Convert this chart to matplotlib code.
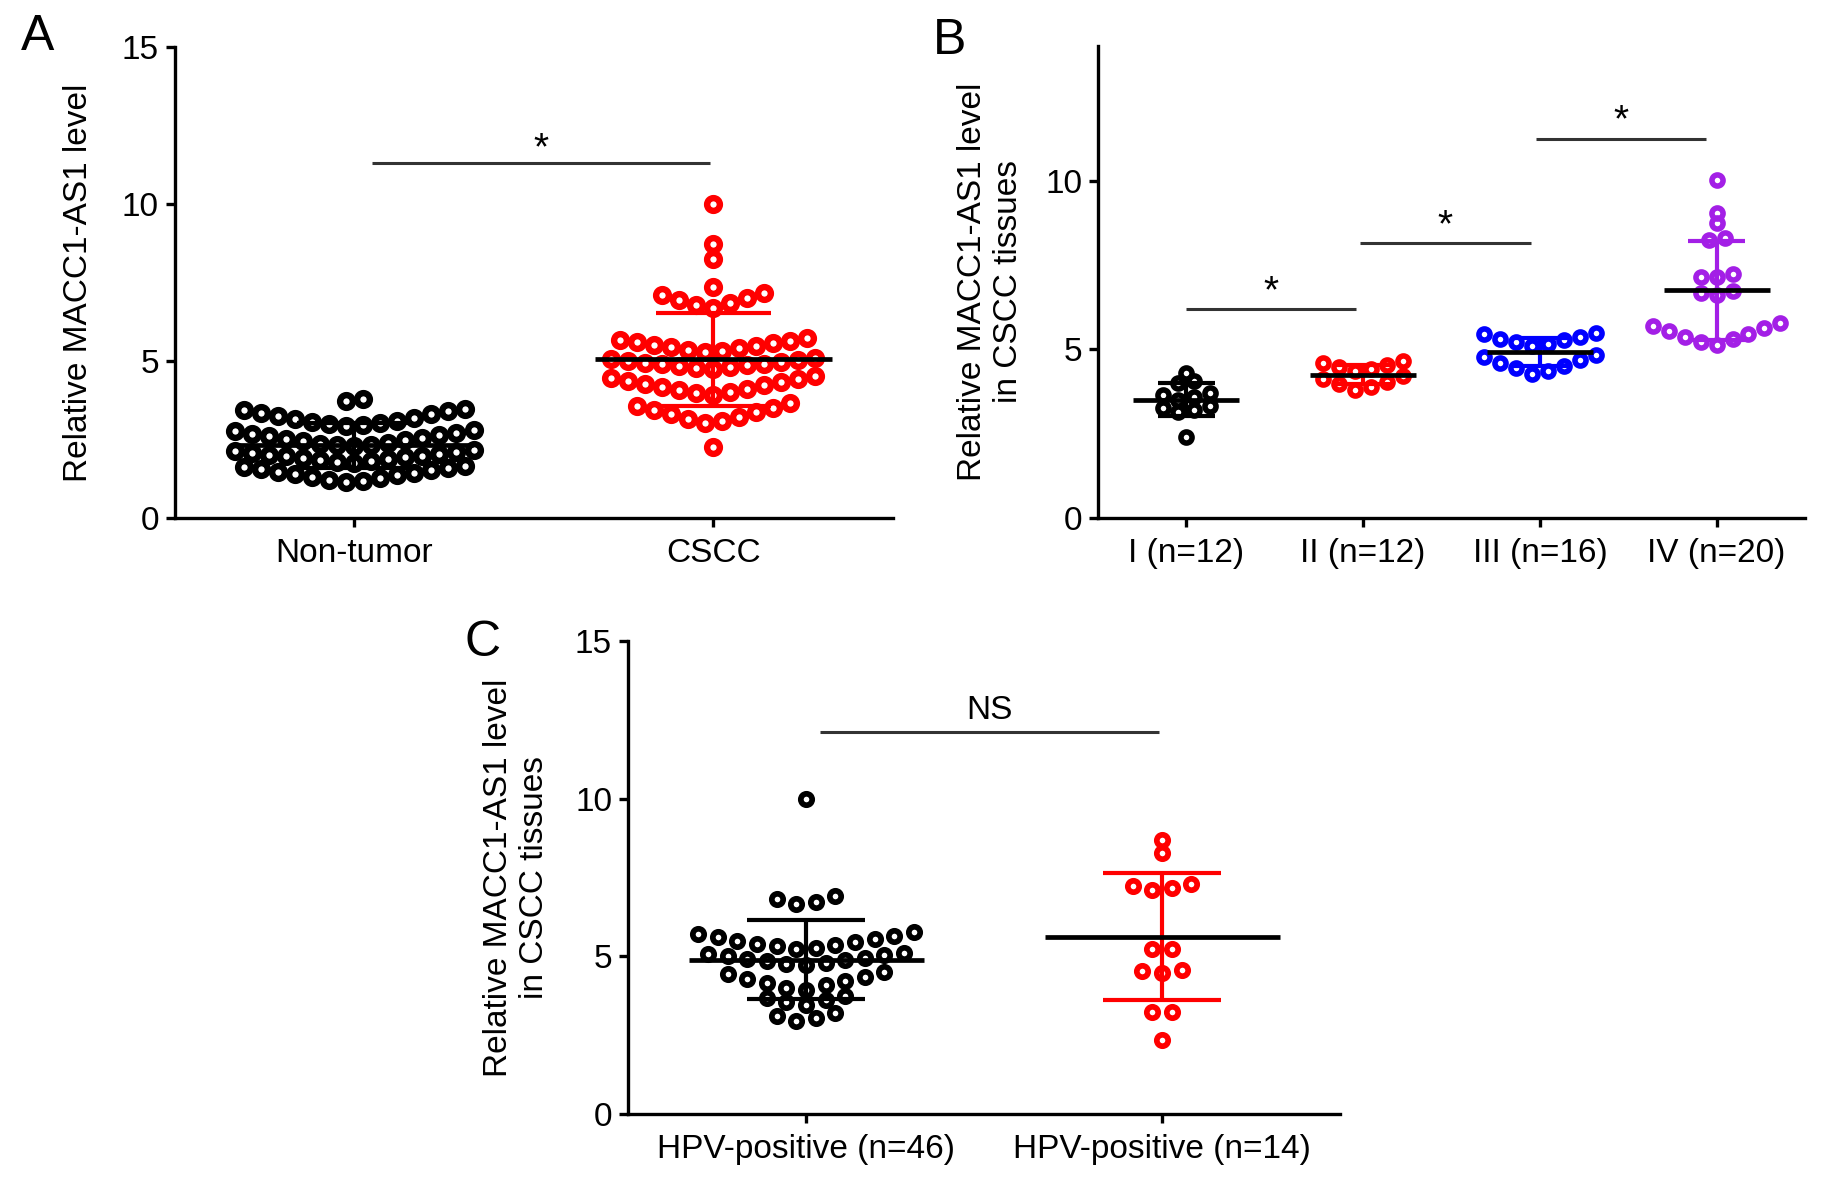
import numpy as np
import matplotlib
matplotlib.use("Agg")
import matplotlib.pyplot as plt

plt.rcParams['font.family'] = ['Liberation Sans', 'DejaVu Sans']

# ---- data ----
# panel A
a_labels = ["Non-tumor", "CSCC"]
non_tumor = [3.8, 3.72,
             3.46, 3.43, 3.4, 3.35, 3.3, 3.25, 3.2, 3.15, 3.1, 3.06, 3.02, 2.98, 2.95, 2.92,
             2.8, 2.76, 2.72, 2.68, 2.64, 2.6, 2.56, 2.52, 2.48, 2.44, 2.4, 2.37, 2.34, 2.31, 2.28,
             2.17, 2.14, 2.11, 2.08, 2.05, 2.02, 1.99, 1.96, 1.93, 1.9, 1.87, 1.84, 1.81, 1.78, 1.76,
             1.66, 1.63, 1.6, 1.56, 1.52, 1.48, 1.44, 1.4, 1.36, 1.32, 1.27, 1.22, 1.18, 1.15]
cscc = [10.0, 8.72, 8.24, 7.37,
        7.18, 7.1, 7.02, 6.94, 6.86, 6.78, 6.7,
        5.72, 5.68, 5.64, 5.6, 5.56, 5.52, 5.48, 5.44, 5.4, 5.36, 5.32, 5.28,
        5.1, 5.07, 5.04, 5.01, 4.98, 4.95, 4.92, 4.89, 4.86, 4.83, 4.8, 4.77, 4.74,
        4.52, 4.47, 4.42, 4.37, 4.32, 4.27, 4.22, 4.17, 4.12, 4.07, 4.02, 3.97, 3.92,
        3.65, 3.58, 3.51, 3.44, 3.37, 3.3, 3.23, 3.16, 3.09, 3.02,
        2.27]

# panel B
b_labels = ["I (n=12)", "II (n=12)", "III (n=16)", "IV (n=20)"]
stage_1 = [4.29, 4.05, 4.0, 3.72, 3.65, 3.58, 3.51, 3.32, 3.26, 3.2, 3.14, 2.41]
stage_2 = [4.65, 4.59, 4.53, 4.47, 4.41, 4.35, 4.2, 4.12, 4.04, 3.96, 3.88, 3.8]
stage_3 = [5.49, 5.45, 5.38, 5.32, 5.28, 5.22, 5.16, 5.1,
           4.84, 4.76, 4.68, 4.6, 4.52, 4.44, 4.36, 4.28]
stage_4 = [10.01, 9.04, 8.74, 8.3, 8.25, 7.24, 7.16, 7.16, 6.74, 6.67, 6.6,
           5.78, 5.7, 5.62, 5.54, 5.46, 5.38, 5.3, 5.22, 5.14]

# panel C
c_labels = ["HPV-positive (n=46)", "HPV-positive (n=14)"]
hpv_46 = [9.98,
          6.9, 6.82, 6.74, 6.66,
          5.78, 5.72, 5.66, 5.6, 5.55, 5.5, 5.45, 5.4, 5.36, 5.32, 5.28, 5.24,
          5.12, 5.08, 5.04, 5.0, 4.96, 4.92, 4.88, 4.84, 4.8, 4.76, 4.72,
          4.5, 4.43, 4.36, 4.29, 4.22, 4.15, 4.08, 4.01, 3.94,
          3.75, 3.68, 3.61, 3.54, 3.47,
          3.2, 3.12, 3.04, 2.96]
hpv_14 = [8.7, 8.28, 7.3, 7.24, 7.18, 7.12, 5.24, 5.24, 4.56, 4.53, 4.46, 3.24, 3.24, 2.34]

# significance bars: (x start, x end, y, text)
sig_a = [(0.05, 0.99, 11.3, "*")]
sig_b = [(0.0, 0.96, 6.2, "*"), (0.98, 1.95, 8.15, "*"), (1.98, 2.94, 11.25, "*")]
sig_c = [(0.04, 0.99, 12.1, "NS")]

RED = "#FF0000"
BLUE = "#0000FF"
PURPLE = "#A31FE6"
FS = 24


def column_x(values, center, step, gap=0.095):
    # group close values into rows, lowest of a row in the middle (GraphPad style)
    v = np.asarray(values, float)
    order = np.argsort(-v, kind="stable")
    rows, cur = [], [order[0]]
    for prev, idx in zip(order[:-1], order[1:]):
        if v[prev] - v[idx] > gap:
            rows.append(cur)
            cur = [idx]
        else:
            cur.append(idx)
    rows.append(cur)
    xs = np.zeros(len(v))
    for row in rows:
        row = sorted(row, key=lambda i: v[i])
        n = len(row)
        slots = sorted([k - (n - 1) / 2 for k in range(n)], key=lambda p: (abs(p), p))
        for i, p in zip(row, slots):
            xs[i] = center + p * step
    return xs


def draw_column(ax, x0, values, color, step, ms, mew, mean_hw, cap_hw):
    xs = column_x(values, x0, step)
    ax.plot(xs, values, "o", ls="none", ms=ms, mfc="none", mec=color, mew=mew,
            zorder=2, clip_on=False)
    m = np.mean(values)
    sd = np.std(values, ddof=1)
    ax.plot([x0, x0], [m - sd, m + sd], color=color, lw=3.0, zorder=3, solid_capstyle="butt")
    for y in (m - sd, m + sd):
        ax.plot([x0 - cap_hw, x0 + cap_hw], [y, y], color=color, lw=3.0, zorder=3,
                solid_capstyle="butt")
    ax.plot([x0 - mean_hw, x0 + mean_hw], [m, m], color="black", lw=3.4, zorder=4,
            solid_capstyle="butt")


def style_axis(ax, labels, ylim, yticks):
    ax.set_xlim(-0.5, len(labels) - 0.5)
    ax.set_ylim(*ylim)
    ax.set_yticks(yticks)
    ax.set_xticks(range(len(labels)))
    ax.set_xticklabels(labels)
    for s in ("top", "right"):
        ax.spines[s].set_visible(False)
    for s in ("left", "bottom"):
        ax.spines[s].set_linewidth(2.4)
    ax.tick_params(axis="both", direction="out", length=6.5, width=2.4, labelsize=FS)
    ax.tick_params(axis="y", pad=5)
    ax.tick_params(axis="x", pad=8)


def draw_sig(ax, bars, offset):
    for x1, x2, y, txt in bars:
        ax.plot([x1, x2], [y, y], color="#333333", lw=2.2, solid_capstyle="butt")
        ax.annotate(txt, xy=((x1 + x2) / 2, y), xytext=(0, offset), textcoords="offset points",
                    ha="center", va="baseline", fontsize=FS if txt == "NS" else 28)


fig = plt.figure(figsize=(18.24, 11.81), dpi=100)
ax_a = fig.add_axes([0.0959, 0.5614, 0.3936, 0.3988])
ax_b = fig.add_axes([0.6020, 0.5614, 0.3876, 0.3997])
ax_c = fig.add_axes([0.3443, 0.0567, 0.3904, 0.4005])

# A
draw_column(ax_a, 0, non_tumor, "black", 0.0474, 9.2, 4.6, 0.33, 0.16)
draw_column(ax_a, 1, cscc, RED, 0.0474, 9.2, 4.6, 0.33, 0.16)
style_axis(ax_a, a_labels, (0, 15), [0, 5, 10, 15])
draw_sig(ax_a, sig_a, 3)
ax_a.set_ylabel("Relative MACC1-AS1 level", fontsize=FS)
ax_a.yaxis.set_label_coords(-0.113, 0.5)

# B
for i, (vals, col) in enumerate(zip([stage_1, stage_2, stage_3, stage_4],
                                     ["black", RED, BLUE, PURPLE])):
    draw_column(ax_b, i, vals, col, 0.09, 8.0, 4.0, 0.3, 0.16)
style_axis(ax_b, b_labels, (0, 14), [0, 5, 10])
draw_sig(ax_b, sig_b, 5)
ax_b.set_ylabel("Relative MACC1-AS1 level\nin CSCC tissues", fontsize=FS, linespacing=1.2)
ax_b.yaxis.set_label_coords(-0.105, 0.5)

# C
draw_column(ax_c, 0, hpv_46, "black", 0.055, 8.2, 4.1, 0.33, 0.165)
draw_column(ax_c, 1, hpv_14, RED, 0.055, 8.2, 4.1, 0.33, 0.165)
style_axis(ax_c, c_labels, (0, 15), [0, 5, 10, 15])
draw_sig(ax_c, sig_c, 10)
ax_c.set_ylabel("Relative MACC1-AS1 level\nin CSCC tissues", fontsize=FS, linespacing=1.2)
ax_c.yaxis.set_label_coords(-0.11, 0.5)

# panel letters
fig.text(21 / 1824, 1 - 14 / 1181, "A", fontsize=36, va="top", ha="left")
fig.text(933 / 1824, 1 - 18 / 1181, "B", fontsize=36, va="top", ha="left")
fig.text(465 / 1824, 1 - 620 / 1181, "C", fontsize=36, va="top", ha="left")

fig.savefig("out.png", dpi=100)
